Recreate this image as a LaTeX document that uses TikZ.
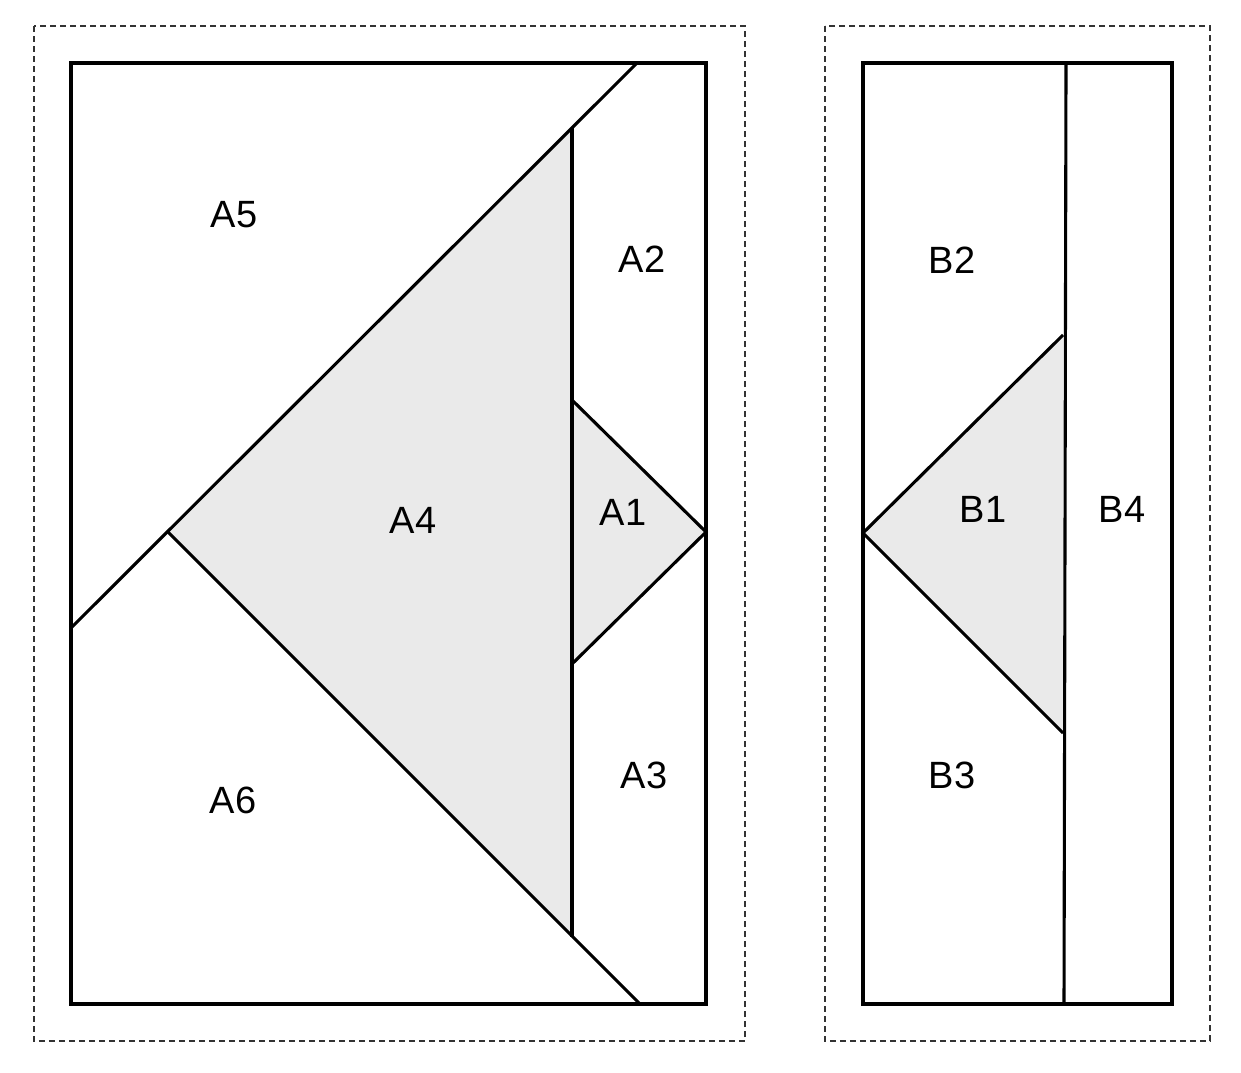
\documentclass[tikz,border=0pt]{standalone}
\usepackage{fontspec}
\setmainfont{Liberation Sans}
\definecolor{patchgray}{HTML}{EAEAEA}
\begin{document}
\begin{tikzpicture}[x=1pt,y=-1pt,
    seam/.style={draw=black, line width=3.1pt},
    cutline/.style={draw=black!80, line width=1.4pt, dash pattern=on 6pt off 4pt},
    patch/.style={fill=patchgray},
    piece/.style={font=\fontsize{38}{42}\selectfont, inner sep=0pt}]
\useasboundingbox (0,0) rectangle (1241,1072);
% section A
\fill[patch] (572,128) -- (168,532) -- (572,936) -- cycle;
\fill[patch] (572,400) -- (706,532) -- (572,664) -- cycle;
\draw[cutline] (34,26) rectangle (745,1041);
\draw[seam] (71,63) rectangle (706,1004);
\draw[seam] (637,63) -- (71,628);
\draw[seam] (168,532) -- (640,1004);
\draw[seam] (572,128) -- (572,937);
\draw[seam] (572,400) -- (706,532) -- (572,664);
\node[piece] (A5) at (234,215) {A5};
\node[piece] (A2) at (642,259) {A2};
\node[piece] (A4) at (413,520) {A4};
\node[piece] (A1) at (623,512) {A1};
\node[piece] (A6) at (233,800) {A6};
\node[piece] (A3) at (644,775) {A3};
% section B
\fill[patch] (863,533) -- (1063,335) -- (1063,733) -- cycle;
\draw[cutline] (825,26) rectangle (1210,1041);
\draw[seam] (863,63) rectangle (1172,1004);
\draw[seam] (1066,63) -- (1064,1004);
\draw[seam] (1063,335) -- (863,533) -- (1063,733);
\node[piece] (B2) at (952,260) {B2};
\node[piece] (B1) at (983,509) {B1};
\node[piece] (B4) at (1122,509) {B4};
\node[piece] (B3) at (952,775) {B3};
\end{tikzpicture}
\end{document}
